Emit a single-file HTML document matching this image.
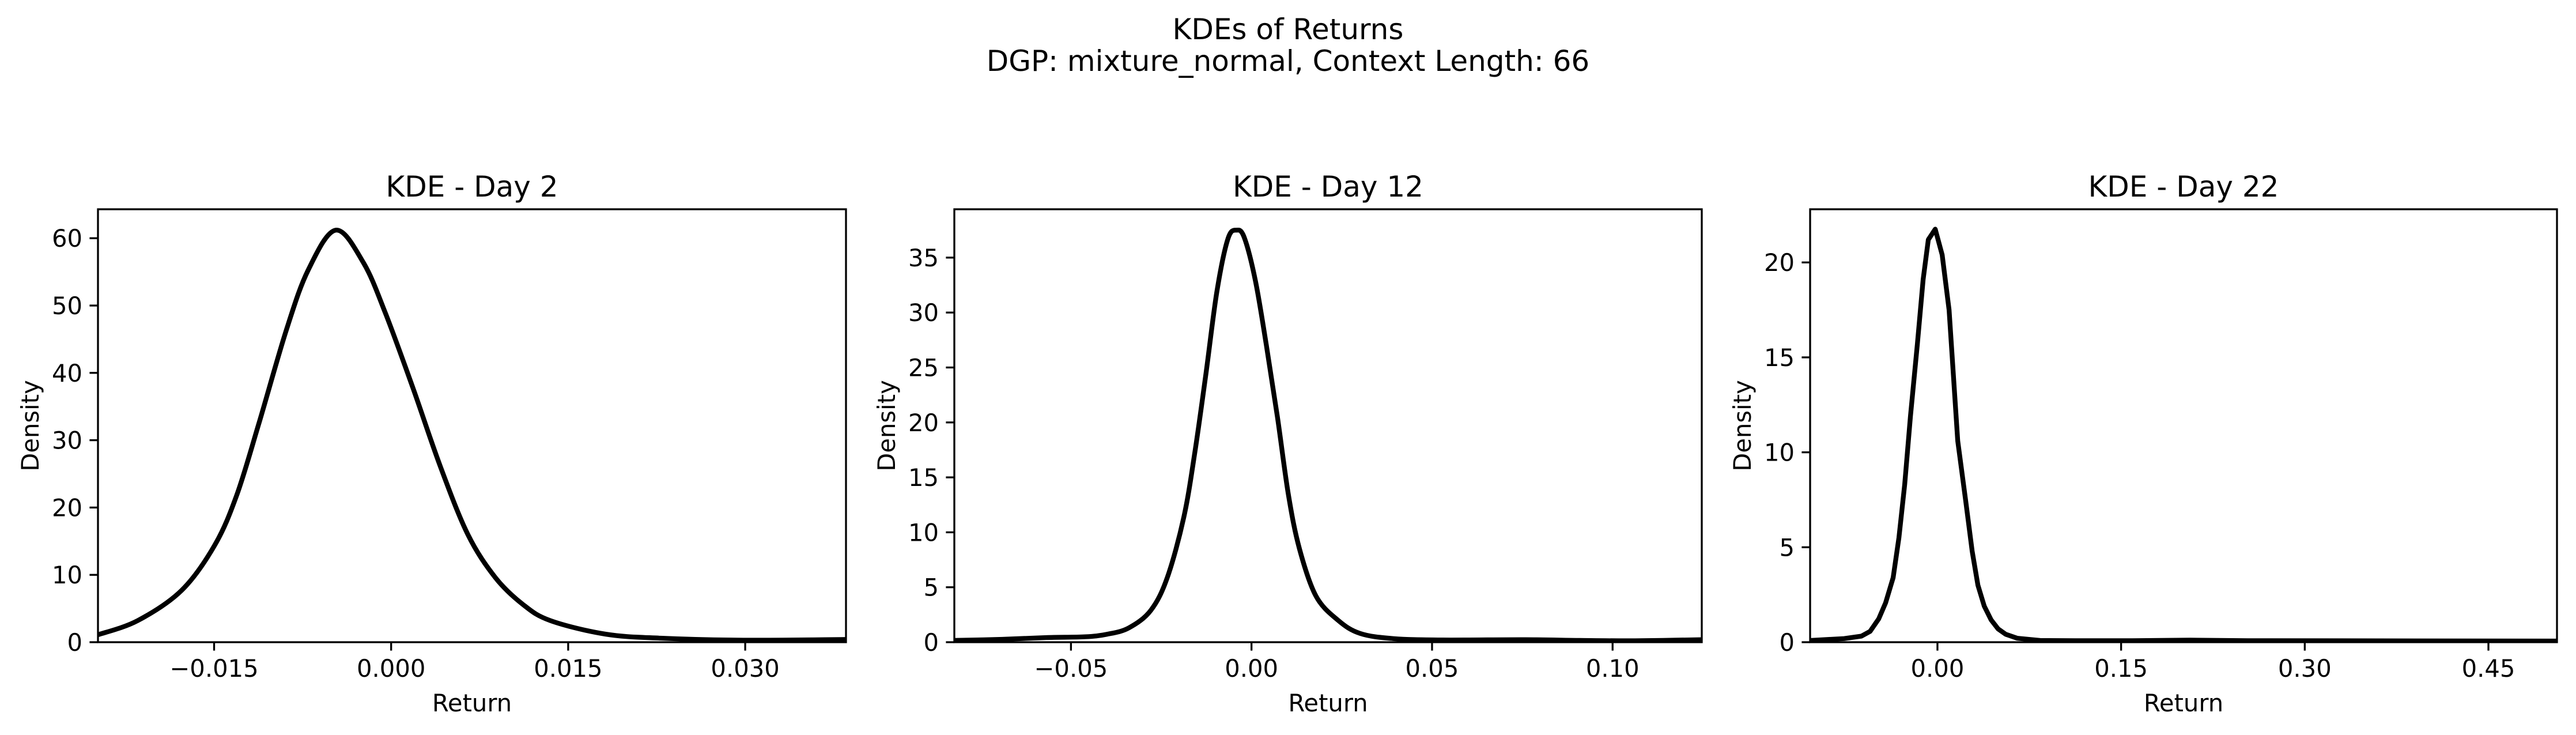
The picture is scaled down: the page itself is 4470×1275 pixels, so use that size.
<!DOCTYPE html>
<html><head><meta charset="utf-8"><style>
html,body{margin:0;padding:0;background:#fff;}
svg{display:block;font-family:"DejaVu Sans","Liberation Sans",sans-serif;}
</style></head><body>
<svg id="fig" width="4470" height="1275" viewBox="0 0 4470 1275" xmlns="http://www.w3.org/2000/svg">
<rect width="4470" height="1275" fill="#fff"/>
<text x="2235" y="68" font-size="50" text-anchor="middle">KDEs of Returns</text>
<text x="2235" y="123" font-size="50" text-anchor="middle">DGP: mixture_normal, Context Length: 66</text>
</svg>
<script>
// Panel 1 (Day 2)
const p1X = [-0.02484,-0.02148,-0.01775,-0.01495,-0.01309,-0.01122,-0.00889,-0.00702,-0.00469,-0.00236,-0.00049,0.00184,0.00417,0.00650,0.00883,0.01117,0.01350,0.01816,0.02283,0.02983,0.03854];
const p1Y = [1.1,3.2,7.7,14.4,21.8,32.4,46.3,55.3,61.2,56.4,48.9,37.8,26.1,16.0,9.6,5.6,3.2,1.2,0.6,0.3,0.4];
const p1XTicks = [-0.015,0.000,0.015,0.030];
const p1XTickLabels = ["\u22120.015","0.000","0.015","0.030"];
const p1YTicks = [0,10,20,30,40,50,60];
// Panel 2 (Day 12)
const p2X = [-0.0823,-0.06904,-0.05684,-0.04617,-0.04008,-0.03398,-0.02788,-0.02330,-0.01873,-0.01568,-0.01263,-0.00959,-0.00654,-0.00410,-0.00197,0.00108,0.00413,0.00718,0.01023,0.01328,0.01785,0.02395,0.03005,0.03919,0.05291,0.07578,0.09102,0.10627,0.1247];
const p2Y = [0.16,0.26,0.42,0.49,0.72,1.3,2.9,5.9,11.4,17.3,24.4,31.9,36.7,37.5,36.8,32.9,27.0,20.5,13.4,8.5,4.2,2.0,0.8,0.33,0.2,0.23,0.16,0.13,0.23];
const p2XTicks = [-0.05,0.00,0.05,0.10];
const p2XTickLabels = ["\u22120.05","0.00","0.05","0.10"];
const p2YTicks = [0,5,10,15,20,25,30,35];
// Panel 3 (Day 22)
const p3X = [-0.104,-0.07621,-0.06209,-0.05502,-0.04796,-0.04230,-0.03618,-0.03147,-0.02676,-0.02205,-0.01640,-0.01169,-0.00745,-0.00180,0.00385,0.00950,0.01657,0.02316,0.02834,0.03305,0.03822,0.04388,0.04953,0.05565,0.06507,0.08391,0.11217,0.1593,0.2064,0.2535,0.5064];
const p3Y = [0.09,0.19,0.32,0.57,1.23,2.08,3.4,5.5,8.3,11.9,15.7,19.1,21.2,21.75,20.4,17.5,10.6,7.4,4.8,3.0,1.9,1.17,0.70,0.42,0.21,0.09,0.08,0.08,0.11,0.08,0.06];
const p3XTicks = [0.00,0.15,0.30,0.45];
const p3XTickLabels = ["0.00","0.15","0.30","0.45"];
const p3YTicks = [0,5,10,15,20];

const NS = "http://www.w3.org/2000/svg";
const svg = document.getElementById('fig');
function mk(tag, attrs, parent){const e=document.createElementNS(NS,tag);for(const k in attrs)e.setAttribute(k,attrs[k]);(parent||svg).appendChild(e);return e;}

function panel(cfg){
  const {left,right,top,bottom,xmin,xmax,ymin,ymax,xs,ys,xt,xtl,yt,title,smooth,id} = cfg;
  const g = mk('g',{});
  
  
  const sx = v => left + (v - xmin) / (xmax - xmin) * (right - left);
  const sy = v => bottom - (v - ymin) / (ymax - ymin) * (bottom - top);
  const clipId = id + '-clip';
  const cp = mk('clipPath',{id:clipId},g);
  mk('rect',{x:left,y:top,width:right-left,height:bottom-top},cp);
  const pts = xs.map((x,i)=>[sx(x), sy(ys[i])]);
  let d = 'M' + pts[0][0].toFixed(2) + ' ' + pts[0][1].toFixed(2);
  if (smooth) {
    for (let i=0;i<pts.length-1;i++){
      const p0=pts[Math.max(0,i-1)], p1=pts[i], p2=pts[i+1], p3=pts[Math.min(pts.length-1,i+2)];
      const c1=[p1[0]+(p2[0]-p0[0])/6, p1[1]+(p2[1]-p0[1])/6];
      const c2=[p2[0]-(p3[0]-p1[0])/6, p2[1]-(p3[1]-p1[1])/6];
      d += ` C${c1[0].toFixed(2)} ${c1[1].toFixed(2)} ${c2[0].toFixed(2)} ${c2[1].toFixed(2)} ${p2[0].toFixed(2)} ${p2[1].toFixed(2)}`;
    }
  } else {
    for (let i=1;i<pts.length;i++) d += ` L${pts[i][0].toFixed(2)} ${pts[i][1].toFixed(2)}`;
  }
  const line = mk('path',{d:d,fill:'none',stroke:'#000','stroke-width':8.3,'stroke-linejoin':'round','clip-path':`url(#${clipId})`},g);
  
  
  const frame = mk('rect',{x:left,y:top,width:right-left,height:bottom-top,fill:'none',stroke:'#000','stroke-width':3.3},g);
  
  
  xt.forEach((v,i)=>{
    const x = sx(v);
    mk('line',{x1:x,x2:x,y1:bottom,y2:bottom+14.6,stroke:'#000','stroke-width':3.3},g);
    const t = mk('text',{x:x,y:bottom+60,'font-size':41.7,'text-anchor':'middle'},g);
    t.textContent = xtl[i];
    
    
  });
  yt.forEach(v=>{
    const y = sy(v);
    mk('line',{x1:left-14.6,x2:left,y1:y,y2:y,stroke:'#000','stroke-width':3.3},g);
    const t = mk('text',{x:left-27,y:y+15,'font-size':41.7,'text-anchor':'end'},g);
    t.textContent = String(v);
    
    
  });
  const xl = mk('text',{x:(left+right)/2,y:bottom+120,'font-size':41.7,'text-anchor':'middle'},g);
  xl.textContent = 'Return';
  
  
  const cy = (top+bottom)/2, cx = left-103;
  const yl = mk('text',{x:cx,y:cy,'font-size':41.7,'text-anchor':'middle',transform:`rotate(-90 ${cx} ${cy})`},g);
  yl.textContent = 'Density';
  
  
  const tt = mk('text',{x:(left+right)/2,y:top-22,'font-size':50,'text-anchor':'middle'},g);
  tt.textContent = title;
  
  
}
panel({id:'panel-day-2',left:170,right:1468,top:363,bottom:1114,xmin:-0.02484,xmax:0.03854,ymin:0,ymax:64.3,xs:p1X,ys:p1Y,xt:p1XTicks,xtl:p1XTickLabels,yt:p1YTicks,title:'KDE - Day 2',smooth:true});
panel({id:'panel-day-12',left:1656,right:2953,top:363,bottom:1114,xmin:-0.0823,xmax:0.1247,ymin:0,ymax:39.4,xs:p2X,ys:p2Y,xt:p2XTicks,xtl:p2XTickLabels,yt:p2YTicks,title:'KDE - Day 12',smooth:true});
panel({id:'panel-day-22',left:3141,right:4437,top:363,bottom:1114,xmin:-0.104,xmax:0.506,ymin:0,ymax:22.8,xs:p3X,ys:p3Y,xt:p3XTicks,xtl:p3XTickLabels,yt:p3YTicks,title:'KDE - Day 22',smooth:false});
</script>
</body></html>
